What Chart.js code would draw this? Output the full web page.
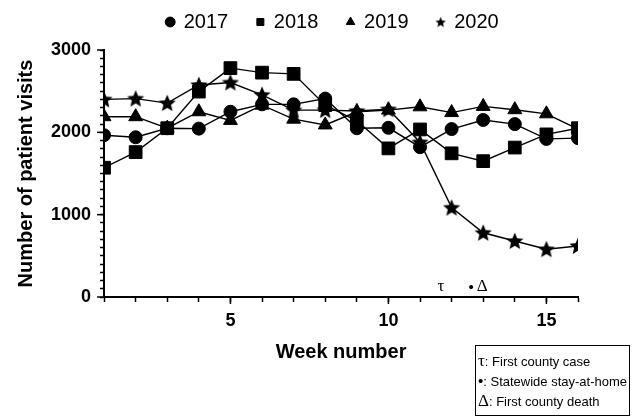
<!DOCTYPE html>
<html>
<head>
<meta charset="utf-8">
<script src="https://cdn.jsdelivr.net/npm/chart.js@4.4.1/dist/chart.umd.min.js"></script>
<style>
  body { margin: 0; background: #fff; }
  .wrap { position: relative; width: 633px; height: 416px; }
  .events {
    position: absolute;
    left: 475px;
    top: 345px;
    width: 155px;
    border: 1px solid #000;
    padding: 5px 0 4px 2px;
    box-sizing: border-box;
    font: 13px 'Liberation Sans', Arial, sans-serif;
    line-height: 19px;
    color: #000;
  }
  .events .sym { font-family: 'Liberation Serif', 'DejaVu Serif', serif; font-size: 17px; }
  .events .dot { font-size: 15px; }
</style>
</head>
<body>
<div class="wrap">
  <canvas id="chart" width="633" height="416"></canvas>
  <div class="events">
    <div><span class="sym">τ</span>: First county case</div>
    <div><span class="dot">•</span>: Statewide stay-at-home</div>
    <div><span class="sym">Δ</span>: First county death</div>
  </div>
</div>
<script>
const weeks = [1, 2, 3, 4, 5, 6, 7, 8, 9, 10, 11, 12, 13, 14, 15, 16];
const visits2017 = [1965, 1940, 2050, 2045, 2250, 2340, 2340, 2410, 2050, 2055, 1820, 2040, 2150, 2100, 1920, 1930];
const visits2018 = [1570, 1760, 2050, 2495, 2780, 2725, 2710, 2330, 2140, 1805, 2035, 1745, 1650, 1815, 1975, 2050];
const visits2019 = [2190, 2190, 2050, 2250, 2145, 2330, 2160, 2090, 2250, 2270, 2310, 2240, 2315, 2275, 2225, 2040];
const visits2020 = [2400, 2410, 2355, 2575, 2605, 2455, 2270, 2270, 2260, 2280, 1880, 1085, 780, 680, 580, 620];
const years = ['2017', '2018', '2019', '2020'];

// event marks sitting on the x axis (week positions)
const eventSymbols = ['τ', '•', 'Δ'];
const eventWeeks = [11.66, 12.62, 12.97];

const FONT = "'Liberation Sans', Arial, sans-serif";

function makeStar(size) {
  const c = document.createElement('canvas');
  c.width = size;
  c.height = size;
  const ctx = c.getContext('2d');
  const r = size / 2;
  ctx.beginPath();
  for (let i = 0; i < 10; i++) {
    const rad = i % 2 == 0 ? r : r * 0.45;
    const a = -Math.PI / 2 + (i * Math.PI) / 5;
    const px = r + rad * Math.cos(a);
    const py = r + 0.6 + rad * Math.sin(a);
    if (i == 0) ctx.moveTo(px, py);
    else ctx.lineTo(px, py);
  }
  ctx.closePath();
  ctx.fillStyle = '#000';
  ctx.fill();
  return c;
}

const starBig = makeStar(18);
const starSmall = makeStar(11);

const toPoints = (vals) => weeks.map((w, i) => ({ x: w, y: vals[i] }));

function series(label, vals, style, radius) {
  return {
    label: label,
    data: toPoints(vals),
    borderColor: '#000',
    backgroundColor: '#000',
    borderWidth: 1.4,
    pointStyle: style,
    pointRadius: radius,
    pointBorderWidth: 1,
    pointHoverRadius: radius,
    tension: 0,
  };
}

// a bit more room between the legend and the plot
const legendGap = {
  id: 'legendGap',
  beforeInit(chart) {
    const fit = chart.legend.fit;
    chart.legend.fit = function () {
      fit.call(this);
      this.height += 8;
    };
  },
};

// longer ticks at labelled values, plus the event symbols
const axisExtras = {
  id: 'axisExtras',
  afterDraw(chart) {
    const ctx = chart.ctx;
    const x = chart.scales.x;
    const y = chart.scales.y;
    ctx.save();
    ctx.strokeStyle = '#000';
    ctx.lineWidth = 1.5;
    for (const v of [1000, 2000, 3000, 0]) {
      const py = y.getPixelForValue(v);
      ctx.beginPath();
      ctx.moveTo(x.left - 7, py);
      ctx.lineTo(x.left, py);
      ctx.stroke();
    }
    for (const v of [5, 10, 15]) {
      const px = x.getPixelForValue(v);
      ctx.beginPath();
      ctx.moveTo(px, y.bottom);
      ctx.lineTo(px, y.bottom + 7);
      ctx.stroke();
    }
    ctx.fillStyle = '#000';
    ctx.textAlign = 'center';
    ctx.textBaseline = 'bottom';
    eventSymbols.forEach((s, i) => {
      ctx.font = s == '•' ? "15px 'Liberation Sans', Arial" : "17px 'Liberation Serif', 'DejaVu Serif', serif";
      ctx.fillText(s, x.getPixelForValue(eventWeeks[i]), y.bottom - 2);
    });
    ctx.restore();
  },
};

new Chart(document.getElementById('chart'), {
  type: 'line',
  data: {
    datasets: [
      series(years[0], visits2017, 'circle', 6.5),
      series(years[1], visits2018, 'rect', 9),
      series(years[2], visits2019, 'triangle', 8),
      series(years[3], visits2020, starBig, 9),
    ],
  },
  options: {
    responsive: false,
    animation: false,
    devicePixelRatio: 1,
    layout: {
      padding: { top: 0, right: 55, bottom: 48, left: 10 },
    },
    plugins: {
      tooltip: { enabled: false },
      legend: {
        position: 'top',
        fullSize: false,
        labels: {
          usePointStyle: true,
          boxWidth: 7,
          boxHeight: 7,
          padding: 12,
          color: '#000',
          font: { family: FONT, size: 20 },
          generateLabels(chart) {
            const items = Chart.defaults.plugins.legend.labels.generateLabels(chart);
            for (const item of items) {
              if (item.text == '2020') item.pointStyle = starSmall;
              item.text = item.text + '   ';
            }
            return items;
          },
        },
      },
    },
    scales: {
      x: {
        type: 'linear',
        min: 1,
        max: 16,
        border: { color: '#000', width: 2 },
        grid: { drawOnChartArea: false, tickLength: 5, tickColor: '#000', tickWidth: 1.5 },
        ticks: {
          stepSize: 1,
          autoSkip: false,
          maxRotation: 0,
          padding: 10,
          color: '#000',
          font: { family: FONT, size: 18, weight: 'bold', lineHeight: 1 },
          callback: (v) => (v % 5 == 0 ? v : ''),
        },
        title: {
          display: true,
          text: 'Week number',
          color: '#000',
          font: { family: FONT, size: 20, weight: 'bold' },
          padding: { top: 0 },
        },
      },
      y: {
        min: 0,
        max: 3000,
        border: { color: '#000', width: 2 },
        grid: { drawOnChartArea: false, tickLength: 4, tickColor: '#000', tickWidth: 1.5 },
        ticks: {
          stepSize: 100,
          autoSkip: false,
          padding: 9,
          color: '#000',
          font: { family: FONT, size: 18, weight: 'bold' },
          callback: (v) => (v % 1000 == 0 ? v : ''),
        },
        title: {
          display: true,
          text: 'Number of patient visits',
          color: '#000',
          font: { family: FONT, size: 20, weight: 'bold' },
          padding: { bottom: 4 },
        },
      },
    },
  },
  plugins: [legendGap, axisExtras],
});
</script>
</body>
</html>
